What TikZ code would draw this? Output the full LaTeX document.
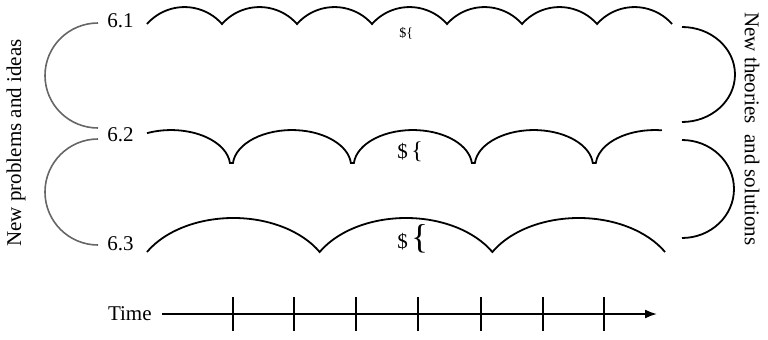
\documentclass[tikz,border=0pt]{standalone}
\usepackage{fontspec}
\setmainfont{Liberation Serif}
\usetikzlibrary{arrows.meta}
\definecolor{muted}{HTML}{666666}
\tikzset{
  % the scalloped line of one row
  wave/.style={draw=black, line width=0.9pt, line join=miter},
  % loops joining the rows
  backloop/.style={draw=muted, line width=0.8pt},
  fwdloop/.style={draw=black, line width=0.9pt},
  % labels
  rowlbl/.style={inner sep=0pt, anchor=base west, font=\fontsize{10.5}{12}\selectfont},
  sidelbl/.style={inner sep=0pt, font=\fontsize{10.5}{12}\selectfont},
  % the time line
  timeaxis/.style={-{Latex[length=6pt,width=4.5pt]}, line width=0.9pt},
  tickmark/.style={line width=0.9pt},
}

\begin{document}
\begin{tikzpicture}[x=0.5pt, y=0.5pt]
\useasboundingbox (0,0) rectangle (768,339);

% rows
\node[rowlbl] (r1) at (107,312) {6.1};
\node[rowlbl] (r2) at (107,198) {6.2};
\node[rowlbl] (r3) at (107,89) {6.3};

\draw[wave] (147,315)
  \foreach \i in {1,...,7} { arc[start angle=138.6, end angle=41.4, radius=50] };

\draw[wave] (147,205.85)
  arc[start angle=113.9, end angle=5, x radius=59.2, y radius=36.1]
  \foreach \i in {1,2,3} { -- ++(3,0) arc[start angle=175, end angle=5, x radius=59.2, y radius=36.1] }
  -- ++(3,0) arc[start angle=175, end angle=83.2, x radius=59.2, y radius=36.1];

\draw[wave] (147,87)
  \foreach \i in {1,2,3} { arc[start angle=150, end angle=30, x radius=99.7, y radius=68] };

\node[rowlbl, font=\scriptsize] (d1) at (399,302) {\$\{};
\node[rowlbl] (d2) at (397,181) {\$\,{\large\{}};
\node[rowlbl] (d3) at (397,91) {\$\,{\LARGE\{}};

% loops
\coordinate (la) at (98,316);
\coordinate (lb) at (98,200);
\coordinate (ra) at (682,312);
\coordinate (rb) at (682,199);
\draw[backloop] (la) arc[start angle=90, end angle=270, x radius=53, y radius=52.5];
\draw[backloop] (lb) arc[start angle=90, end angle=270, x radius=53, y radius=53];
\draw[fwdloop] (ra) arc[start angle=90, end angle=-90, x radius=53, y radius=47.5];
\draw[fwdloop] (rb) arc[start angle=90, end angle=-90, x radius=52, y radius=49];

\node[sidelbl, rotate=90] (prob) at (16,196) {New problems and ideas};
\node[sidelbl, rotate=-90] (theo) at (752,210) {New theories~ and solutions};

% time
\node[rowlbl, anchor=base east] (time) at (152,19) {Time};
\coordinate (tend) at (657,25);
\draw[timeaxis] (time.east |- tend) ++(10,0) -- (tend);
\foreach \x in {233,294,356,418,481,543,604}
  \draw[tickmark] (\x,8) -- (\x,42);

\end{tikzpicture}
\end{document}
